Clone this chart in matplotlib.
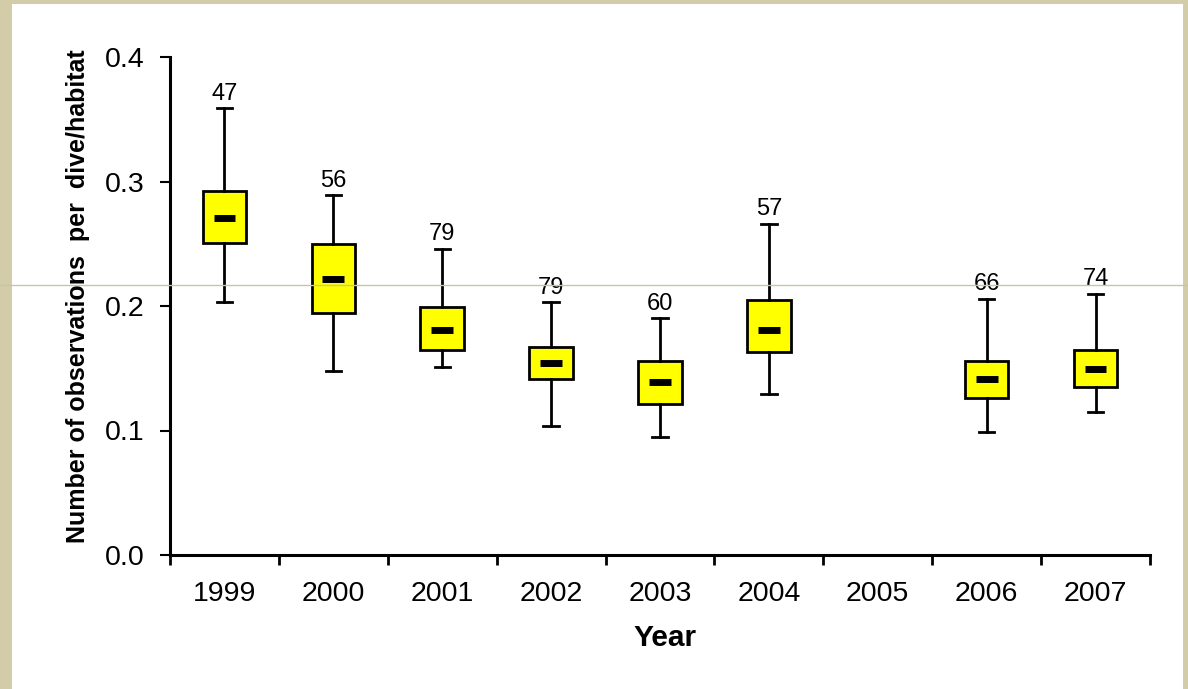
import matplotlib.pyplot as plt
from matplotlib.lines import Line2D
from matplotlib.patches import Rectangle

plt.rcParams['font.family'] = ['Liberation Sans', 'DejaVu Sans']

# data
years = ["1999", "2000", "2001", "2002", "2003", "2004", "2005", "2006", "2007"]
box_years = ["1999", "2000", "2001", "2002", "2003", "2004", "2006", "2007"]
whisker_low = [0.203, 0.148, 0.151, 0.104, 0.095, 0.129, 0.099, 0.115]
q1 = [0.251, 0.194, 0.165, 0.141, 0.121, 0.163, 0.126, 0.135]
median = [0.271, 0.222, 0.181, 0.154, 0.139, 0.181, 0.141, 0.149]
q3 = [0.292, 0.250, 0.199, 0.167, 0.156, 0.205, 0.156, 0.165]
whisker_high = [0.359, 0.289, 0.246, 0.203, 0.190, 0.266, 0.206, 0.210]
n_obs = [47, 56, 79, 79, 60, 57, 66, 74]

W, H = 1188, 689
fig = plt.figure(figsize=(W / 100, H / 100), dpi=100)
fig.patch.set_facecolor("#d3cca8")
fig.add_artist(Rectangle((12 / W, 0), (1183 - 12) / W, 1 - 4 / H,
                         transform=fig.transFigure, facecolor="white",
                         edgecolor="none", zorder=0))

ax = fig.add_axes([170 / W, 1 - 555 / H, (1150 - 170) / W, (555 - 57) / H])
ax.set_facecolor("none")

pos = [years.index(y) for y in box_years]
stats = []
for i in range(len(box_years)):
    stats.append(dict(whislo=whisker_low[i], q1=q1[i], med=median[i],
                      q3=q3[i], whishi=whisker_high[i], fliers=[]))

ax.bxp(stats, positions=pos, widths=0.4, patch_artist=True, showfliers=False,
       capwidths=0.14,
       boxprops=dict(facecolor="#ffff00", edgecolor="black", linewidth=2),
       whiskerprops=dict(color="black", linewidth=2),
       capprops=dict(color="black", linewidth=2),
       medianprops=dict(linewidth=0))
ax.hlines(median, [p - 0.1 for p in pos], [p + 0.1 for p in pos],
          color="black", linewidth=5, zorder=5)

for p, top, n in zip(pos, whisker_high, n_obs):
    ax.annotate(str(n), (p, top), xytext=(0, 2.5), textcoords="offset points",
                ha="center", va="bottom", fontsize=17)

ax.set_xlim(-0.5, len(years) - 0.5)
ax.set_ylim(0, 0.4)
ax.set_yticks([0, 0.1, 0.2, 0.3, 0.4])
ax.set_yticklabels(["0.0", "0.1", "0.2", "0.3", "0.4"])
ax.set_xticks([i - 0.5 for i in range(len(years) + 1)])
ax.set_xticklabels([])
ax.set_xticks(range(len(years)), minor=True)
ax.set_xticklabels(years, minor=True)
ax.tick_params(axis="x", which="minor", length=0, pad=19, labelsize=20.5)
ax.tick_params(axis="x", which="major", length=7, width=2, direction="out")
ax.tick_params(axis="y", length=7, width=1.5, direction="out", pad=11,
               labelsize=20.5)

for s in ["top", "right"]:
    ax.spines[s].set_visible(False)
for s in ["left", "bottom"]:
    ax.spines[s].set_linewidth(2.2)

ax.set_xlabel("Year", fontsize=21.5, fontweight="bold", va="center")
ax.xaxis.set_label_coords((665 - 170) / 980, -(638 - 555) / 498)
ax.set_ylabel("Number of observations  per  dive/habitat", fontsize=18,
              fontweight="bold", va="center")
ax.yaxis.set_label_coords((78 - 170) / 980, (555 - 296) / 498)

# thin grey line running across the whole picture
fig.add_artist(Line2D([0, 1], [1 - 285 / H, 1 - 285 / H],
                      transform=fig.transFigure, color="#c9c4a6",
                      linewidth=1, zorder=10))

fig.savefig("out.png", dpi=100, facecolor=fig.get_facecolor())
